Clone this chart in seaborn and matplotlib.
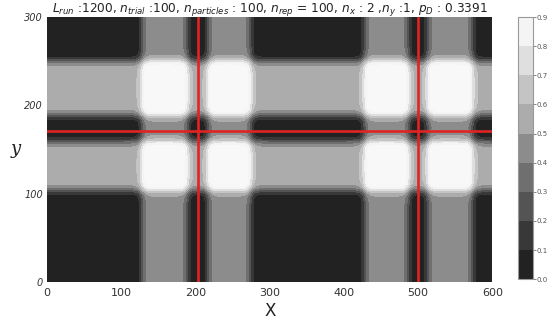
import numpy as np
import matplotlib
matplotlib.use("Agg")
import matplotlib.pyplot as plt
from matplotlib.colors import ListedColormap, BoundaryNorm
from matplotlib.colorbar import ColorbarBase
import seaborn as sns

sns.set_style("white")
plt.rcParams["font.family"] = ["DejaVu Sans"]

# Band layout of the detection map
x_band_lo = [128, 217, 428, 513]      # vertical bands (left edges)
x_band_hi = [189, 274, 487, 573]      # vertical bands (right edges)
x_band_amp = 0.45
y_band_lo = [104, 189]                # horizontal bands (bottom edges)
y_band_hi = [159, 250]                # horizontal bands (top edges)
y_band_amp = 0.56
edge_soft = 6.0

# Sensor cross-hairs
sensor_x = [203, 500]
sensor_y = [171]

levels = [0.0, 0.1, 0.2, 0.3, 0.4, 0.5, 0.6, 0.7, 0.8, 0.9]
level_colors = ["#222222", "#383838", "#545454", "#6f6f6f", "#8c8c8c",
                "#acacac", "#c4c4c4", "#dfdfdf", "#f4f4f4"]

x_ticks = [0, 100, 200, 300, 400, 500, 600]
y_ticks = [0, 100, 200, 300]

title = (r"$L_{run}$ :1200, $n_{trial}$ :100, $n_{particles}$ : 100, "
         r"$n_{rep}$ = 100, $n_x$ : 2 ,$n_y$ :1, $p_D$ : 0.3391")


def band(v, lo, hi, amp):
    out = np.zeros_like(v, dtype=float)
    for a, b in zip(lo, hi):
        out += 0.5 * (np.tanh((v - a) / edge_soft) - np.tanh((v - b) / edge_soft))
    return amp * out


xs = np.arange(0, 601, 1.0)
ys = np.arange(0, 301, 1.0)
X, Y = np.meshgrid(xs, ys)
Z = band(X, x_band_lo, x_band_hi, x_band_amp) + band(Y, y_band_lo, y_band_hi, y_band_amp)

cmap = ListedColormap(level_colors)
cmap.set_over("#f8f8f8")
cmap.set_under("#222222")
norm = BoundaryNorm(levels, cmap.N)

fig = plt.figure(figsize=(5.55, 3.22), dpi=100)
ax = fig.add_axes([0.085, 0.124, 0.802, 0.823])
ax.contourf(X, Y, Z, levels=levels, cmap=cmap, norm=norm, extend="both")

for sx in sensor_x:
    ax.axvline(sx, color="#e02424", lw=1.9)
for sy in sensor_y:
    ax.axhline(sy, color="#e02424", lw=1.9)

ax.set_xlim(0, 600)
ax.set_ylim(0, 300)
ax.set_xticks(x_ticks)
ax.set_yticks(y_ticks)
ax.tick_params(axis="x", labelsize=8, colors="#333333", length=2, pad=2)
ax.tick_params(axis="y", labelsize=7, colors="#333333", length=2, pad=1)
for lab in ax.get_yticklabels():
    lab.set_fontstyle("italic")
for s in ax.spines.values():
    s.set_visible(False)

ax.set_xlabel("X", fontsize=12, color="#222222", labelpad=3)
ax.set_ylabel("y", fontsize=13, family="DejaVu Serif", style="italic",
              rotation=0, color="#222222", labelpad=8)
ax.yaxis.set_label_coords(-0.07, 0.47)
ax.set_title(title, fontsize=8.7, color="#222222", pad=4)

cax = fig.add_axes([0.933, 0.133, 0.027, 0.814])
cb = ColorbarBase(cax, cmap=ListedColormap(level_colors), norm=BoundaryNorm(levels, 9),
                  boundaries=levels, ticks=levels)
cb.set_ticklabels([f"{v:.1f}" for v in levels])
cb.ax.tick_params(labelsize=5, colors="#555555", length=2, width=0.5, pad=1)
cb.outline.set_edgecolor("#999999")
cb.outline.set_linewidth(0.8)

fig.savefig("out.png", dpi=100)
